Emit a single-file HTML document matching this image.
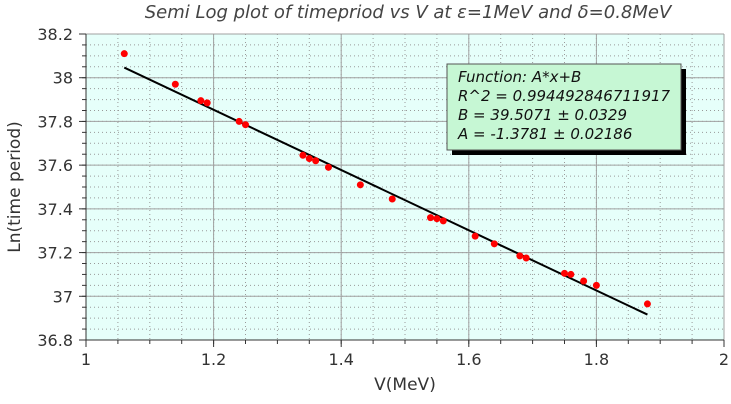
<!DOCTYPE html>
<html><head><meta charset="utf-8"><style>
body{margin:0;background:#fff;width:731px;height:404px;overflow:hidden}
svg{display:block;font-family:"DejaVu Sans","Liberation Sans",sans-serif}
</style></head><body>
<svg id="c" width="731" height="404"></svg>
<script>
const xs=[1.06,1.14,1.18,1.19,1.24,1.25,1.34,1.35,1.36,1.38,1.43,1.48,1.54,1.55,1.56,1.61,1.64,1.68,1.69,1.75,1.76,1.78,1.80,1.88];
const ys=[38.11,37.97,37.895,37.885,37.80,37.785,37.645,37.63,37.62,37.59,37.51,37.445,37.36,37.355,37.345,37.275,37.24,37.185,37.175,37.105,37.1,37.07,37.05,36.965];
const fitA=-1.3781, fitB=39.5071;
const fitRange=[1.06,1.88];
const xTicks=[1,1.2,1.4,1.6,1.8,2];
const xTickLabels=["1","1.2","1.4","1.6","1.8","2"];
const yTicks=[36.8,37,37.2,37.4,37.6,37.8,38,38.2];
const yTickLabels=["36.8","37","37.2","37.4","37.6","37.8","38","38.2"];
const L=86,R=724,T=34,B=340,x0=1,x1=2,y0=36.8,y1=38.2;
const X=v=>L+(v-x0)/(x1-x0)*(R-L);
const Y=v=>B-(v-y0)/(y1-y0)*(B-T);
const svg=document.getElementById('c');
const NS="http://www.w3.org/2000/svg";
function mk(t,a,p){const e=document.createElementNS(NS,t);for(const k in a)e.setAttribute(k,a[k]);(p||svg).appendChild(e);return e;}
let e=mk('rect',{x:L,y:T,width:R-L,height:B-T,fill:'#e6fffa'});


for(let v=x0;v<=x1+1e-9;v+=0.05){const px=X(v);e=mk('line',{x1:px,x2:px,y1:T,y2:B,stroke:'#999','stroke-width':1,'stroke-dasharray':'1,3'});}
for(let v=y0;v<=y1+1e-9;v+=0.05){const py=Y(v);e=mk('line',{x1:L,x2:R,y1:py,y2:py,stroke:'#999','stroke-width':1,'stroke-dasharray':'1,3'});}
xTicks.forEach((v,i)=>{const px=X(v);
e=mk('line',{x1:px,x2:px,y1:T,y2:B,stroke:'#a0a0a0'});
e=mk('line',{x1:px,x2:px,y1:B,y2:B+7,stroke:'#333'});
e=mk('text',{x:px,y:B+25,'text-anchor':'middle','font-size':16,fill:'#333'});e.textContent=xTickLabels[i];});
for(let v=x0;v<x1;v+=0.05){const px=X(v);e=mk('line',{x1:px,x2:px,y1:B,y2:B+4,stroke:'#333'});}
yTicks.forEach((v,i)=>{const py=Y(v);
e=mk('line',{x1:L,x2:R,y1:py,y2:py,stroke:'#a0a0a0'});
e=mk('line',{x1:L-7,x2:L,y1:py,y2:py,stroke:'#333'});
e=mk('text',{x:L-13,y:py+6,'text-anchor':'end','font-size':16,fill:'#333'});e.textContent=yTickLabels[i];});
for(let v=y0;v<y1;v+=0.05){const py=Y(v);e=mk('line',{x1:L-4,x2:L,y1:py,y2:py,stroke:'#333'});}
e=mk('line',{x1:L,x2:L,y1:T,y2:B,stroke:'#333'});
e=mk('line',{x1:L,x2:R,y1:B,y2:B,stroke:'#333'});
e=mk('line',{x1:X(fitRange[0]),y1:Y(fitA*fitRange[0]+fitB),x2:X(fitRange[1]),y2:Y(fitA*fitRange[1]+fitB),stroke:'#000','stroke-width':2});


xs.forEach((v,i)=>{e=mk('circle',{cx:X(v),cy:Y(ys[i]),r:3.5,fill:'#ff0000'});

});
const g=mk('g',{});


mk('rect',{x:452,y:69,width:234,height:86,fill:'#000'},g);
mk('rect',{x:447,y:64,width:234,height:86,fill:'#c6f7d4',stroke:'#555','stroke-width':1},g);
["Function: A*x+B","R^2 = 0.994492846711917","B = 39.5071 ± 0.0329","A = -1.3781 ± 0.02186"].forEach((t,i)=>{
e=mk('text',{x:458,y:82+i*19,'font-size':15,'font-style':'italic',fill:'#111'},g);e.textContent=t;

});
e=mk('text',{x:408,y:18,'text-anchor':'middle','font-size':18,'font-style':'italic',fill:'#444'});
e.textContent="Semi Log plot of timepriod vs V at ε=1MeV and δ=0.8MeV";


e=mk('text',{x:405,y:390,'text-anchor':'middle','font-size':17,fill:'#333'});
e.textContent="V(MeV)";


e=mk('text',{x:20,y:187,'text-anchor':'middle','font-size':17,fill:'#333',transform:'rotate(-90 20 187)'});
e.textContent="Ln(time period)";


</script>
</body></html>
